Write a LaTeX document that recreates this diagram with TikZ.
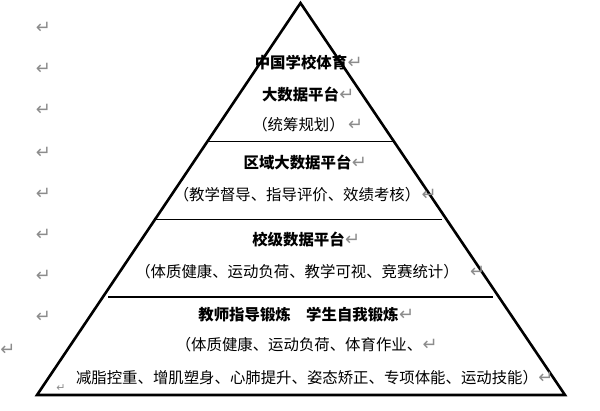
\documentclass[tikz,border=0pt]{standalone}
\usepackage{fontspec}
\newfontfamily\cjk{Noto Sans CJK SC}
\newfontfamily\symfont{DejaVu Sans}
\definecolor{markgray}{RGB}{140,140,140}
\tikzset{
  frame/.style={line width=2.6pt, line join=miter},
  divider/.style={line width=1.4pt},
  title/.style={inner sep=0pt, font=\cjk\bfseries\fontsize{15.4}{18}\selectfont},
  body/.style={inner sep=0pt, font=\cjk\fontsize{15.4}{18}\selectfont},
  pmark/.style={inner sep=0pt, text=markgray, font=\symfont\fontsize{18}{20}\selectfont},
  smallmark/.style={inner sep=0pt, text=markgray, font=\symfont\fontsize{11}{12}\selectfont}
}
\begin{document}
\begin{tikzpicture}[x=1pt,y=-1pt]
\useasboundingbox (0,0) rectangle (600,411);
% pyramid
\coordinate (apex) at (300.5,3);
\coordinate (bl) at (37,395);
\coordinate (br) at (565,395);
\draw[frame] (apex) -- (br) -- (bl) -- cycle;
% dividers
\coordinate (d1l) at (208,141.5); \coordinate (d1r) at (393,141.5);
\coordinate (d2l) at (155,219.5); \coordinate (d2r) at (442,219.5);
\coordinate (d3l) at (108,297);   \coordinate (d3r) at (493,297);
\draw[divider] (d1l) -- (d1r);
\draw[divider] (d2l) -- (d2r);
\draw[divider] (d3l) -- (d3r);
% texts
\node[title] (t1) at (301,63) {中国学校体育};
\node[title] (t2) at (300.5,95) {大数据平台};
\node[body]  (t3) at (298.5,125) {（统筹规划）};
\node[title] (t4) at (297.5,163) {区域大数据平台};
\node[body]  (t5) at (297,195) {（教学督导、指导评价、效绩考核）};
\node[title] (t6) at (298.5,240) {校级数据平台};
\node[body]  (t7) at (297,272) {（体质健康、运动负荷、教学可视、竞赛统计）};
\node[title] (t8) at (298.5,315) {教师指导锻炼　学生自我锻炼};
\node[body]  (t9) at (299,345) {（体质健康、运动负荷、体育作业、};
\node[body]  (t10) at (307,378) {减脂控重、增肌塑身、心肺提升、姿态矫正、专项体能、运动技能）};
% paragraph marks after texts
\node[pmark, anchor=west] (r1) at ([xshift=0pt]t1.east) {↵};
\node[pmark, anchor=west] (r2) at ([xshift=0pt]t2.east) {↵};
\node[pmark, anchor=west] (r3) at ([xshift=3pt]t3.east) {↵};
\node[pmark, anchor=west] (r4) at ([xshift=0pt]t4.east) {↵};
\node[pmark, anchor=west] (r5) at ([xshift=1pt]t5.east) {↵};
\node[pmark, anchor=west] (r6) at ([xshift=0pt]t6.east) {↵};
\node[pmark, anchor=west] (r7) at ([xshift=11pt]t7.east) {↵};
\node[pmark, anchor=west] (r8) at ([xshift=0pt]t8.east) {↵};
\node[pmark, anchor=west] (r9) at ([xshift=0pt]t9.east) {↵};
\node[pmark, anchor=west] (r10) at ([xshift=0pt]t10.east) {↵};
% margin paragraph marks
\node[pmark] (m1) at (43.5,27.5) {↵};
\node[pmark] (m2) at (43.5,69) {↵};
\node[pmark] (m3) at (43.5,109.5) {↵};
\node[pmark] (m4) at (43.5,153) {↵};
\node[pmark] (m5) at (43.5,193.5) {↵};
\node[pmark] (m6) at (43.5,234.5) {↵};
\node[pmark] (m7) at (43.5,275.5) {↵};
\node[pmark] (m8) at (43.5,316.5) {↵};
\node[pmark] (m9) at (8,350) {↵};
\node[smallmark] (m10) at (61,388) {↵};
\end{tikzpicture}
\end{document}
